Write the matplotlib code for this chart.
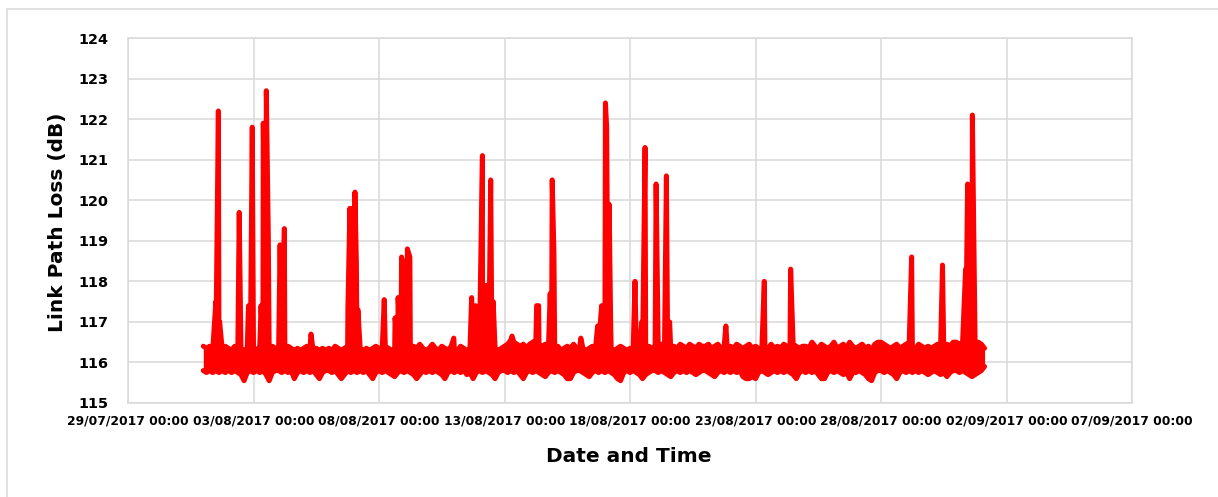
# Link path loss over time

import numpy as np
import pandas as pd
import matplotlib
matplotlib.use("Agg")
import matplotlib.pyplot as plt
import matplotlib.dates as mdates
from matplotlib.patches import Rectangle

# Baseline band, every 3 hours from 01/08/2017 00:00
# (upper and lower edge of the noisy trace, one row per day)
baseline_inicio = "2017-08-01 00:00"
banda_sup = [
    116.4, 116.35, 116.4, 116.3, 116.35, 116.3, 116.35, 116.4,    # 01/08
    116.35, 116.3, 116.4, 116.3, 116.35, 116.3, 116.35, 116.3,    # 02/08
    116.35, 116.3, 116.4, 116.3, 116.35, 116.3, 116.4, 116.35,    # 03/08
    116.3, 116.35, 116.3, 116.4, 116.35, 116.3, 116.35, 116.3,    # 04/08
    116.35, 116.4, 116.35, 116.3, 116.35, 116.3, 116.35, 116.3,   # 05/08
    116.35, 116.3, 116.4, 116.35, 116.3, 116.35, 116.4, 116.35,   # 06/08
    116.35, 116.3, 116.35, 116.3, 116.35, 116.3, 116.35, 116.4,   # 07/08
    116.35, 116.3, 116.4, 116.35, 116.3, 116.35, 116.4, 116.35,   # 08/08
    116.3, 116.35, 116.3, 116.4, 116.35, 116.45, 116.35, 116.3,   # 09/08
    116.35, 116.45, 116.35, 116.3, 116.4, 116.35, 116.3, 116.4,   # 10/08
    116.35, 116.3, 116.4, 116.35, 116.3, 116.35, 116.3, 116.35,   # 11/08
    116.35, 116.3, 116.35, 116.3, 116.3, 116.35, 116.3, 116.35,   # 12/08
    116.4, 116.45, 116.55, 116.5, 116.45, 116.4, 116.45, 116.35,  # 13/08
    116.45, 116.5, 116.55, 116.45, 116.4, 116.45, 116.35, 116.4,  # 14/08
    116.35, 116.4, 116.3, 116.35, 116.4, 116.35, 116.45, 116.35,  # 15/08
    116.4, 116.35, 116.3, 116.35, 116.4, 116.35, 116.45, 116.4,   # 16/08
    116.35, 116.4, 116.35, 116.3, 116.35, 116.4, 116.35, 116.3,   # 17/08
    116.35, 116.3, 116.4, 116.35, 116.3, 116.35, 116.4, 116.35,   # 18/08
    116.4, 116.35, 116.45, 116.4, 116.35, 116.3, 116.4, 116.35,   # 19/08
    116.45, 116.4, 116.35, 116.45, 116.4, 116.35, 116.45, 116.4,  # 20/08
    116.4, 116.45, 116.35, 116.4, 116.45, 116.35, 116.4, 116.35,  # 21/08
    116.4, 116.35, 116.45, 116.4, 116.35, 116.4, 116.45, 116.35,  # 22/08
    116.4, 116.35, 116.3, 116.4, 116.35, 116.45, 116.35, 116.4,   # 23/08
    116.35, 116.45, 116.4, 116.35, 116.45, 116.4, 116.35, 116.4,  # 24/08
    116.4, 116.35, 116.5, 116.4, 116.35, 116.45, 116.4, 116.35,   # 25/08
    116.4, 116.5, 116.35, 116.4, 116.45, 116.35, 116.5, 116.4,    # 26/08
    116.35, 116.4, 116.45, 116.35, 116.4, 116.3, 116.45, 116.5,   # 27/08
    116.5, 116.45, 116.4, 116.35, 116.4, 116.45, 116.35, 116.4,   # 28/08
    116.45, 116.5, 116.4, 116.35, 116.45, 116.4, 116.35, 116.4,   # 29/08
    116.35, 116.4, 116.45, 116.4, 116.35, 116.45, 116.4, 116.5,   # 30/08
    116.5, 116.45, 116.5, 116.4, 116.45, 116.4, 116.45, 116.5,    # 31/08
    116.45, 116.35,                                               # 01/09
]
banda_inf = [
    115.8, 115.75, 115.8, 115.75, 115.8, 115.75, 115.8, 115.75,   # 01/08
    115.8, 115.75, 115.8, 115.75, 115.7, 115.55, 115.75, 115.8,   # 02/08
    115.75, 115.8, 115.75, 115.8, 115.7, 115.55, 115.75, 115.8,   # 03/08
    115.8, 115.75, 115.8, 115.75, 115.8, 115.6, 115.75, 115.8,    # 04/08
    115.75, 115.8, 115.75, 115.8, 115.7, 115.6, 115.75, 115.8,    # 05/08
    115.8, 115.75, 115.8, 115.7, 115.6, 115.7, 115.8, 115.75,     # 06/08
    115.8, 115.75, 115.8, 115.75, 115.8, 115.7, 115.6, 115.75,    # 07/08
    115.8, 115.75, 115.8, 115.75, 115.7, 115.65, 115.75, 115.8,   # 08/08
    115.75, 115.8, 115.75, 115.7, 115.6, 115.7, 115.8, 115.75,    # 09/08
    115.8, 115.75, 115.8, 115.75, 115.7, 115.6, 115.75, 115.8,    # 10/08
    115.75, 115.8, 115.75, 115.8, 115.7, 115.75, 115.6, 115.75,   # 11/08
    115.8, 115.75, 115.8, 115.75, 115.7, 115.6, 115.75, 115.8,    # 12/08
    115.8, 115.75, 115.8, 115.75, 115.8, 115.7, 115.6, 115.75,    # 13/08
    115.8, 115.75, 115.8, 115.75, 115.7, 115.65, 115.75, 115.8,   # 14/08
    115.75, 115.8, 115.75, 115.7, 115.6, 115.6, 115.75, 115.8,    # 15/08
    115.8, 115.75, 115.7, 115.65, 115.75, 115.8, 115.75, 115.8,   # 16/08
    115.75, 115.8, 115.75, 115.7, 115.6, 115.55, 115.75, 115.8,   # 17/08
    115.75, 115.8, 115.75, 115.7, 115.6, 115.7, 115.75, 115.8,    # 18/08
    115.8, 115.75, 115.8, 115.75, 115.7, 115.65, 115.75, 115.8,   # 19/08
    115.75, 115.8, 115.75, 115.8, 115.75, 115.7, 115.75, 115.8,   # 20/08
    115.8, 115.75, 115.7, 115.65, 115.75, 115.8, 115.75, 115.8,   # 21/08
    115.75, 115.8, 115.75, 115.8, 115.65, 115.6, 115.6, 115.65,   # 22/08
    115.6, 115.75, 115.8, 115.75, 115.7, 115.75, 115.8, 115.75,   # 23/08
    115.8, 115.75, 115.8, 115.75, 115.7, 115.6, 115.75, 115.8,    # 24/08
    115.75, 115.8, 115.75, 115.8, 115.7, 115.6, 115.6, 115.75,    # 25/08
    115.8, 115.75, 115.8, 115.75, 115.7, 115.75, 115.6, 115.75,   # 26/08
    115.75, 115.8, 115.75, 115.7, 115.6, 115.55, 115.75, 115.8,   # 27/08
    115.8, 115.75, 115.8, 115.75, 115.7, 115.6, 115.75, 115.8,    # 28/08
    115.75, 115.8, 115.75, 115.8, 115.75, 115.8, 115.75, 115.7,   # 29/08
    115.75, 115.8, 115.75, 115.7, 115.75, 115.65, 115.75, 115.8,  # 30/08
    115.8, 115.75, 115.8, 115.75, 115.7, 115.65, 115.7, 115.75,   # 31/08
    115.8, 115.9,                                                 # 01/09
]

# Peaks
picos_tempo = [
    "2017-08-01 12:00", "2017-08-01 14:24", "2017-08-01 15:36",
    "2017-08-02 10:20", "2017-08-02 19:12", "2017-08-02 22:48",
    "2017-08-03 07:12", "2017-08-03 09:20", "2017-08-03 12:15", "2017-08-03 14:10",
    "2017-08-04 01:25", "2017-08-04 05:30",
    "2017-08-05 07:00",
    "2017-08-06 18:15", "2017-08-06 20:10", "2017-08-06 22:30",
    "2017-08-07 01:00", "2017-08-07 02:24", "2017-08-07 03:50",
    "2017-08-08 05:00", "2017-08-08 15:22", "2017-08-08 18:14", "2017-08-08 21:36",
    "2017-08-09 00:43", "2017-08-09 03:07", "2017-08-09 05:31",
    "2017-08-10 23:31",
    "2017-08-11 16:34", "2017-08-11 20:24",
    "2017-08-12 02:53", "2017-08-12 06:30", "2017-08-12 10:48", "2017-08-12 13:12",
    "2017-08-13 07:12",
    "2017-08-14 06:43", "2017-08-14 08:38", "2017-08-14 19:41", "2017-08-14 21:36",
    "2017-08-14 23:17",
    "2017-08-16 01:00", "2017-08-16 17:02", "2017-08-16 20:53",
    "2017-08-17 00:30", "2017-08-17 01:41", "2017-08-17 04:05", "2017-08-17 05:30",
    "2017-08-18 04:48", "2017-08-18 11:17", "2017-08-18 14:24",
    "2017-08-19 00:58", "2017-08-19 10:48", "2017-08-19 13:55",
    "2017-08-21 19:41",
    "2017-08-23 08:24",
    "2017-08-24 09:36",
    "2017-08-29 05:17",
    "2017-08-30 10:48",
    "2017-08-31 08:53", "2017-08-31 10:48", "2017-08-31 15:22",
]
picos_valor = [
    117.5, 122.2, 117.0,
    119.7, 117.4, 121.8,
    117.4, 121.9, 122.7, 119.1,
    118.9, 119.3,
    116.7,
    117.3, 119.8, 119.8,
    120.2, 118.4, 117.3,
    117.55, 117.1, 117.6, 118.6,
    118.5, 118.8, 118.6,
    116.6,
    117.6, 117.4,
    121.1, 117.9, 120.5, 117.5,
    116.65,
    117.4, 117.4, 117.7, 120.5,
    118.7,
    116.6, 116.9, 117.4,
    122.4, 121.8, 119.9, 117.0,
    118.0, 117.0, 121.3,
    120.4, 120.6, 117.0,
    116.9,
    118.0,
    118.3,
    118.6,
    118.4,
    118.3, 120.4, 122.1,
]

# Time axis and peak trace (upper edge + peaks)
t_base = pd.date_range(baseline_inicio, periods=len(banda_sup), freq="3h")
serie = pd.concat([
    pd.Series(banda_sup, index=t_base),
    pd.Series(picos_valor, index=pd.to_datetime(picos_tempo)),
]).sort_index()

# Figure
fig = plt.figure(figsize=(12.18, 4.97), dpi=100)
ax = fig.add_axes([128 / 1218, 1 - 403 / 497, 1004 / 1218, 365 / 497])

vermelho = "#ff0000"
ax.fill_between(t_base, banda_inf, banda_sup, color=vermelho, lw=0, zorder=3)
ax.plot(t_base, banda_inf, color=vermelho, lw=3.6,
        solid_joinstyle="round", solid_capstyle="round", zorder=3)
ax.plot(serie.index, serie.values, color=vermelho, lw=3.6,
        solid_joinstyle="round", solid_capstyle="round", zorder=3)

cinza = "#d9d9d9"
ax.set_ylim(115, 124)
ax.set_yticks(np.arange(115, 125, 1))
ax.set_xlim(pd.Timestamp("2017-07-29"), pd.Timestamp("2017-09-07"))
ax.set_xticks(pd.date_range("2017-07-29", "2017-09-07", freq="5D"))
ax.xaxis.set_major_formatter(mdates.DateFormatter("%d/%m/%Y %H:%M"))

ax.grid(True, color=cinza, lw=1.1, zorder=0)
ax.set_axisbelow(True)
for s in ax.spines.values():
    s.set_color(cinza)
    s.set_linewidth(1.1)

ax.tick_params(axis="both", length=0)
ax.tick_params(axis="y", pad=14, labelsize=10.4)
ax.tick_params(axis="x", pad=8, labelsize=8.8)
for lab in ax.get_xticklabels() + ax.get_yticklabels():
    lab.set_fontweight("bold")

fig.text(58 / 1218, 1 - 222 / 497, "Link Path Loss (dB)", rotation=90,
         ha="center", va="center", fontsize=14.5, fontweight="bold")
fig.text(629 / 1218, 1 - 457 / 497, "Date and Time",
         ha="center", va="center", fontsize=14.5, fontweight="bold")

# Outer frame
fig.patches.append(Rectangle((7 / 1218, -0.1), 1.2, 1 - 9 / 497 + 0.1,
                             transform=fig.transFigure, fill=False,
                             edgecolor=cinza, lw=1.1, zorder=0))

fig.savefig("out.png", dpi=100)
